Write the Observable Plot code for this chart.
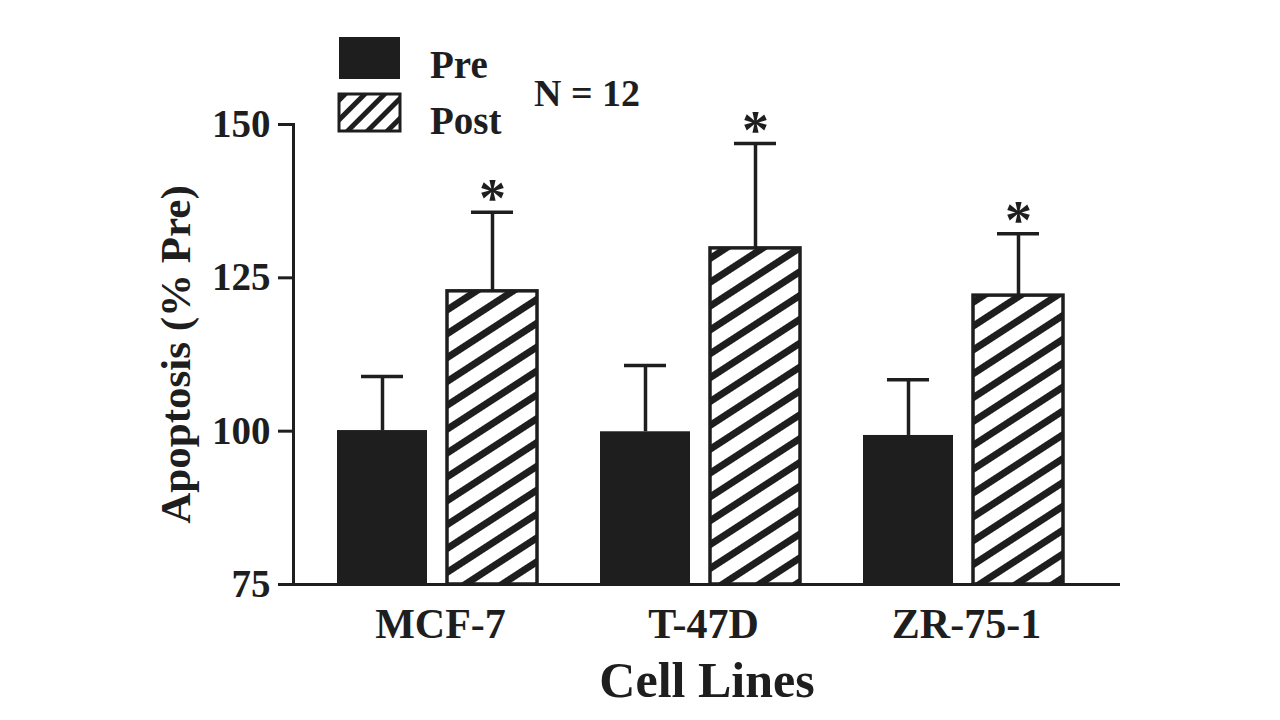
<!DOCTYPE html>
<html>
<head>
<meta charset="utf-8">
<script src="https://cdn.jsdelivr.net/npm/d3@7"></script>
<script src="https://cdn.jsdelivr.net/npm/@observablehq/plot@0.6"></script>
<style>
  body { margin: 0; background: #fff; }
  #wrap { position: relative; width: 1280px; height: 720px; overflow: hidden; }
  #wrap svg.overlay { position: absolute; left: 0; top: 0; pointer-events: none; }
</style>
</head>
<body>
<div id="wrap"></div>
<script>
// ---- data ----
const cells = ["MCF-7", "T-47D", "ZR-75-1"];
const groups = ["Pre", "Post"];
const preMean = [100.1, 99.9, 99.3];
const preErr = [8.8, 10.8, 9.1];
const postMean = [122.8, 129.8, 122.1];
const postErr = [12.9, 17.1, 10.1];
const significance = ["*", "*", "*"];
const yTicks = [75, 100, 125, 150];
const baseline = 75;
const nLabel = "N = 12";
const xTitle = "Cell Lines";
const yTitle = "Apoptosis (% Pre)";

const ink = "#1e1e1e";
const font = "Liberation Serif, Times New Roman, serif";

const pre = cells.map((c, i) => ({cell: c, group: groups[0], mean: preMean[i], err: preErr[i]}));
const post = cells.map((c, i) => ({cell: c, group: groups[1], mean: postMean[i], err: postErr[i], sig: significance[i]}));

const chart = Plot.plot({
  width: 1280,
  height: 720,
  marginLeft: 293,
  marginRight: 160,
  marginTop: 124,
  marginBottom: 136,
  style: {fontFamily: font, fontWeight: "bold", color: ink, background: "white", overflow: "visible"},
  x: {domain: cells, range: [336, 1063], paddingInner: 0.241, paddingOuter: 0, label: null},
  y: {domain: [75, 150], label: null},
  marks: [
    // bars
    Plot.barY(pre, {x: "cell", y1: baseline, y2: "mean", fill: ink, insetRight: 110}),
    Plot.barY(post, {x: "cell", y1: baseline, y2: "mean", fill: "url(#hatch)", stroke: ink, strokeWidth: 3.5, insetLeft: 110}),
    // error bars
    Plot.ruleX(pre, {x: "cell", y1: "mean", y2: d => d.mean + d.err, dx: -55, stroke: ink, strokeWidth: 3.5}),
    Plot.ruleX(post, {x: "cell", y1: "mean", y2: d => d.mean + d.err, dx: 55, stroke: ink, strokeWidth: 3.5}),
    Plot.tickY(pre, {x: "cell", y: d => d.mean + d.err, insetLeft: 24, insetRight: 134, stroke: ink, strokeWidth: 3.5}),
    Plot.tickY(post, {x: "cell", y: d => d.mean + d.err, insetLeft: 134, insetRight: 24, stroke: ink, strokeWidth: 3.5}),
    // significance stars
    Plot.text(post, {x: "cell", y: d => d.mean + d.err, text: "sig", dx: 55, dy: 4, lineAnchor: "bottom", fontSize: 54, fill: ink}),
    // axes
    Plot.frame({anchor: "left", stroke: ink, strokeWidth: 3}),
    Plot.ruleY([baseline], {stroke: ink, strokeWidth: 3}),
    Plot.axisY(yTicks, {tickSize: 15, tickPadding: 8, fontSize: 39, strokeWidth: 3, stroke: ink, fill: ink, label: null}),
    Plot.axisX({tickSize: 0, tickPadding: 24, fontSize: 42, fill: ink, label: null, dx: 3}),
    // axis titles
    Plot.text([xTitle], {frameAnchor: "bottom", dy: 112, lineAnchor: "bottom", fontSize: 50, fill: ink}),
    Plot.text([yTitle], {frameAnchor: "left", textAnchor: "middle", rotate: -90, dx: -104, lineAnchor: "bottom", fontSize: 43, fill: ink})
  ]
});

d3.select(chart).insert("defs", ":first-child").html(`
  <pattern id="hatch" patternUnits="userSpaceOnUse" width="20" height="20" patternTransform="rotate(-33)">
    <rect width="20" height="20" fill="white"></rect>
    <rect width="20" height="7" fill="${ink}"></rect>
  </pattern>
  <pattern id="hatchKey" patternUnits="userSpaceOnUse" width="14" height="14" patternTransform="rotate(-45)">
    <rect width="14" height="14" fill="white"></rect>
    <rect width="14" height="5" fill="${ink}"></rect>
  </pattern>`);

const wrap = document.getElementById("wrap");
wrap.appendChild(chart);

// legend overlay
const ov = d3.select(wrap).append("svg").attr("class", "overlay")
  .attr("width", 1280).attr("height", 720)
  .style("font-family", font).style("font-weight", "bold");
const keys = [
  {label: groups[0], fill: ink, stroke: "none", y: 37, h: 42, base: 78},
  {label: groups[1], fill: "url(#hatchKey)", stroke: ink, y: 94, h: 37, base: 134}
];
keys.forEach(k => {
  ov.append("rect").attr("x", 339).attr("y", k.y).attr("width", 61).attr("height", k.h)
    .attr("fill", k.fill).attr("stroke", k.stroke).attr("stroke-width", 3);
  ov.append("text").attr("x", 430).attr("y", k.base).attr("font-size", 39).attr("fill", ink).text(k.label);
});
ov.append("text").attr("x", 534).attr("y", 106).attr("font-size", 38).attr("fill", ink).text(nLabel);
</script>
</body>
</html>
